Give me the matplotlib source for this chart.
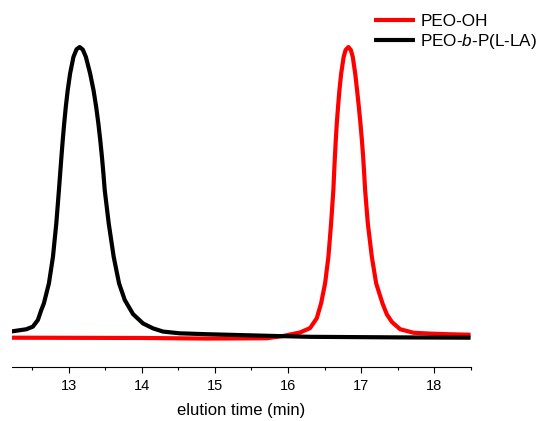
import matplotlib
matplotlib.use("Agg")
import matplotlib.pyplot as plt
from matplotlib.ticker import MultipleLocator

plt.rcParams['font.family'] = ['Liberation Sans', 'DejaVu Sans']
plt.rcParams['mathtext.fontset'] = 'custom'
plt.rcParams['mathtext.rm'] = 'Liberation Sans'
plt.rcParams['mathtext.it'] = 'Liberation Sans:italic'

# GPC traces, normalised detector response vs elution time (min)
t_peo = [12.200, 14.000, 14.885, 15.708, 15.936, 16.165, 16.302, 16.394, 16.453,
         16.508, 16.553, 16.590, 16.621, 16.631, 16.642, 16.654, 16.668, 16.685,
         16.704, 16.728, 16.762, 16.789, 16.827, 16.860, 16.887, 16.920, 16.946,
         16.970, 16.992, 17.012, 17.029, 17.043, 17.056, 17.093, 17.148, 17.207,
         17.294, 17.354, 17.423, 17.536, 17.719, 17.948, 18.177, 18.500]
y_peo = [0.000, -0.001, -0.003, -0.002, 0.006, 0.018, 0.033, 0.067, 0.118,
         0.187, 0.278, 0.393, 0.508, 0.565, 0.622, 0.679, 0.737, 0.794,
         0.851, 0.909, 0.966, 0.990, 1.000, 0.990, 0.966, 0.909, 0.851,
         0.794, 0.737, 0.679, 0.622, 0.565, 0.508, 0.393, 0.278, 0.187,
         0.118, 0.080, 0.054, 0.029, 0.017, 0.014, 0.012, 0.010]

t_block = [12.200, 12.416, 12.506, 12.575, 12.621, 12.657, 12.726, 12.781, 12.827,
           12.863, 12.880, 12.897, 12.915, 12.935, 12.957, 12.983, 13.016, 13.062,
           13.104, 13.147, 13.190, 13.232, 13.290, 13.337, 13.373, 13.403, 13.429,
           13.452, 13.472, 13.490, 13.545, 13.613, 13.686, 13.764, 13.878, 14.015,
           14.152, 14.289, 14.519, 14.885, 15.342, 15.798, 16.302, 17.536, 18.500]
y_block = [0.021, 0.029, 0.038, 0.061, 0.095, 0.118, 0.187, 0.278, 0.393,
           0.508, 0.565, 0.622, 0.679, 0.737, 0.794, 0.851, 0.909, 0.966,
           0.992, 1.000, 0.991, 0.966, 0.909, 0.851, 0.794, 0.737, 0.679,
           0.622, 0.565, 0.508, 0.393, 0.278, 0.187, 0.130, 0.081, 0.049,
           0.032, 0.021, 0.015, 0.012, 0.009, 0.006, 0.003, 0.001, 0.000]

fig = plt.figure(figsize=(5.37, 4.21), dpi=100)
ax = fig.add_axes([0.0223, 0.1283, 0.854, 0.8242])

ax.plot(t_peo, y_peo, color='#ff0000', lw=3, solid_joinstyle='round',
        solid_capstyle='butt', label='PEO-OH')
ax.plot(t_block, y_block, color='black', lw=3, solid_joinstyle='round',
        solid_capstyle='butt', label='PEO-$\\it{b}$-P(L-LA)')

ax.set_xlim(12.22, 18.5)
ax.set_ylim(-0.1008, 1.093)

for side in ['top', 'right', 'left']:
    ax.spines[side].set_visible(False)
ax.spines['bottom'].set_linewidth(0.8)
ax.set_yticks([])
ax.xaxis.set_major_locator(MultipleLocator(1))
ax.xaxis.set_minor_locator(MultipleLocator(0.5))
ax.tick_params(axis='x', which='major', direction='out', length=4, width=0.8,
               labelsize=10.5, pad=5)
ax.tick_params(axis='x', which='minor', direction='out', length=2.5, width=0.8)
ax.set_xlabel('elution time (min)', fontsize=12, labelpad=7)

fig.legend(loc='upper left', bbox_to_anchor=(374 / 537, 1 - 14 / 421),
           frameon=False, fontsize=12.3, handlelength=2.4, handletextpad=0.3,
           labelspacing=0.15, borderpad=0, borderaxespad=0)

fig.savefig('out.png', dpi=100)
